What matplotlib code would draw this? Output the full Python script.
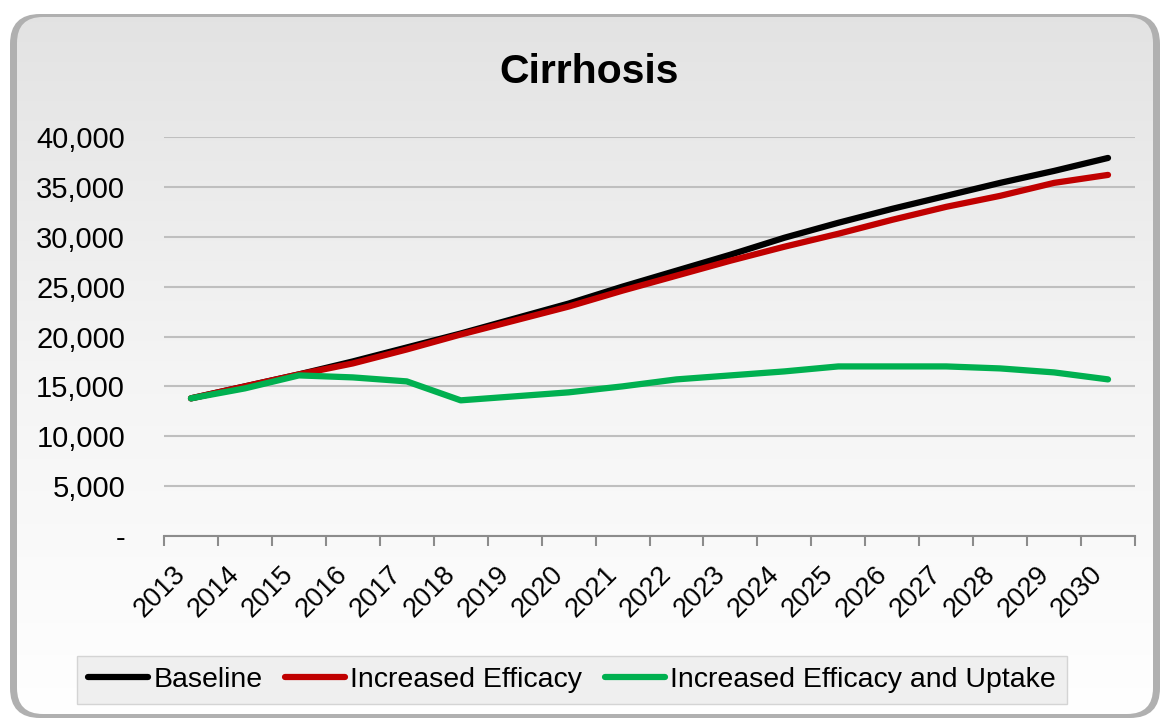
import numpy as np
import matplotlib.pyplot as plt
from matplotlib.patches import FancyBboxPatch
from matplotlib.colors import LinearSegmentedColormap
from matplotlib.ticker import FuncFormatter

years = [str(y) for y in range(2013, 2031)]
baseline = [13800, 15000, 16200, 17500, 18900, 20300, 21800, 23300, 25000,
            26600, 28200, 29900, 31400, 32800, 34100, 35400, 36600, 37900]
efficacy = [13800, 15000, 16200, 17300, 18700, 20200, 21600, 23000, 24600,
            26100, 27600, 29000, 30300, 31700, 33000, 34100, 35400, 36200]
uptake = [13800, 14800, 16100, 15900, 15500, 13600, 14000, 14400, 15000,
          15700, 16100, 16500, 17000, 17000, 17000, 16800, 16400, 15700]

plt.rcParams['font.family'] = ['Liberation Sans', 'DejaVu Sans']

W, H = 1162, 722
fig = plt.figure(figsize=(W / 100, H / 100), dpi=100)

# rounded panel with soft gradient and bevel edge
bg = fig.add_axes([0, 0, 1, 1], zorder=-1)
bg.axis('off')
shadow = FancyBboxPatch((10, 14), 1150, 704, boxstyle='round,pad=0,rounding_size=30',
                        fc='#b0b0b0', ec='none', zorder=0)
bg.add_patch(shadow)
panel = FancyBboxPatch((17, 17), 1136, 697, boxstyle='round,pad=0,rounding_size=26',
                       fc='none', ec='none')
bg.add_patch(panel)
cmap = LinearSegmentedColormap.from_list('bg', ['#e2e2e2', '#f4f4f4', '#ffffff'])
grad = np.linspace(0, 1, 256).reshape(-1, 1)
img = bg.imshow(grad, cmap=cmap, extent=[0, W, H, 0], aspect='auto', zorder=1)
img.set_clip_path(panel)
bg.set_xlim(0, W)
bg.set_ylim(H, 0)

ax = fig.add_axes([164 / W, 1 - 536 / H, (1135 - 164) / W, (536 - 137) / H])
ax.patch.set_alpha(0)

x = np.arange(len(years))
ax.plot(x, baseline, color='black', lw=4.5, solid_capstyle='round', label='Baseline')
ax.plot(x, efficacy, color='#c00000', lw=4.5, solid_capstyle='round', label='Increased Efficacy')
ax.plot(x, uptake, color='#00b050', lw=4.5, solid_capstyle='round',
        label='Increased Efficacy and Uptake')

ax.set_xlim(-0.5, len(years) - 0.5)
ax.set_ylim(0, 40000)
ax.set_yticks(np.arange(0, 40001, 5000))
ax.yaxis.set_major_formatter(FuncFormatter(lambda v, p: '-' if v == 0 else f'{v:,.0f}'))
ax.tick_params(axis='y', length=0, labelsize=21, pad=28)
ax.yaxis.grid(True, color='#bfbfbf', lw=1.5)
ax.set_axisbelow(True)

ax.set_xticks(np.arange(-0.5, len(years)), minor=False)
ax.set_xticklabels([])
ax.set_xticks(x, minor=True)
ax.set_xticklabels(years, minor=True, rotation=45, ha='right', va='top')
ax.tick_params(axis='x', which='major', length=7, width=1.5, color='#8c8c8c')
ax.tick_params(axis='x', which='minor', length=0, labelsize=19.5, pad=18)

for s in ['left', 'right', 'top']:
    ax.spines[s].set_visible(False)
ax.spines['bottom'].set_color('#8c8c8c')
ax.spines['bottom'].set_linewidth(1.5)

fig.text(589 / W, 1 - 72 / H, 'Cirrhosis', fontsize=29.5, weight='bold',
         ha='center', va='center')

fig.legend(loc='center', bbox_to_anchor=(572 / W, 1 - 680 / H), ncol=3,
           frameon=True, fancybox=False, facecolor='#efefef', edgecolor='#d4d4d4',
           fontsize=20.5, handlelength=2.1, handletextpad=0.18, columnspacing=0.8,
           borderpad=0.4, framealpha=1)

fig.savefig('out.png', dpi=100)
